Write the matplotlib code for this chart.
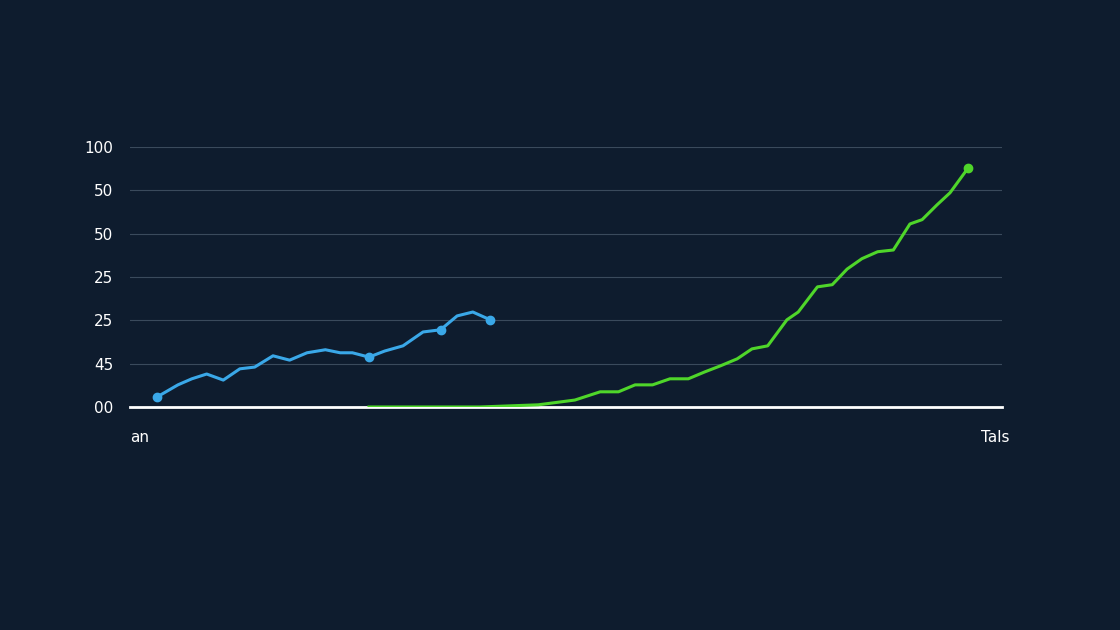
import matplotlib
matplotlib.use("Agg")
import matplotlib.pyplot as plt

ytick_labels = ["00", "45", "25", "25", "50", "50", "100"]
x_labels = ["an", "Tals"]

blue_x = [3.1,5.5,7.1,8.8,10.7,12.6,14.3,16.4,18.3,20.3,22.4,24.1,25.5,27.4,29.2,31.3,33.6,35.6,37.5,39.3,41.3]
blue_y = [0.23,0.51,0.65,0.76,0.62,0.88,0.92,1.18,1.08,1.25,1.32,1.25,1.25,1.15,1.29,1.41,1.73,1.78,2.10,2.19,2.01]
blue_marks = [0, 13, 17, 20]

green_x = [27.4,40.1,46.8,51.0,53.9,56.0,57.9,59.9,61.9,64.0,65.9,67.7,69.6,71.3,73.1,75.3,76.6,78.8,80.5,82.2,83.9,85.7,87.5,89.4,90.8,92.5,94.0,96.1]
green_y = [0,0,0.05,0.16,0.35,0.35,0.51,0.51,0.65,0.65,0.81,0.95,1.11,1.34,1.41,2.01,2.19,2.77,2.82,3.18,3.42,3.58,3.62,4.22,4.32,4.66,4.94,5.52]

bg = "#0e1c2e"
fig = plt.figure(figsize=(11.2, 6.3), dpi=100, facecolor=bg)
ax = fig.add_axes([0.116, 0.354, 0.779, 0.413], facecolor=bg)
ax.set_xlim(0, 100)
ax.set_ylim(0, 6)
ax.set_yticks(range(7))
ax.set_yticklabels(ytick_labels, color="white", fontsize=11)
ax.tick_params(axis="y", length=0, pad=12)
ax.set_xticks([])
for s in ["top", "right", "left"]:
    ax.spines[s].set_visible(False)
ax.spines["bottom"].set_color("white")
ax.spines["bottom"].set_linewidth(2)
ax.grid(axis="y", color="#3a4a5c", linewidth=0.8)
ax.set_axisbelow(True)

ax.plot(blue_x, blue_y, color="#3aa8e8", lw=2.2, zorder=3)
ax.plot([blue_x[i] for i in blue_marks], [blue_y[i] for i in blue_marks], "o", color="#3aa8e8", ms=6, zorder=4)
ax.plot(green_x, green_y, color="#4fd62a", lw=2.2, zorder=3)
ax.plot([green_x[-1]], [green_y[-1]], "o", color="#4fd62a", ms=6, zorder=4)

ax.text(0, -0.7, x_labels[0], color="white", fontsize=11, ha="left", va="center")
ax.text(100.8, -0.7, x_labels[1], color="white", fontsize=11, ha="right", va="center")

fig.savefig("out.png", dpi=100, facecolor=bg)
